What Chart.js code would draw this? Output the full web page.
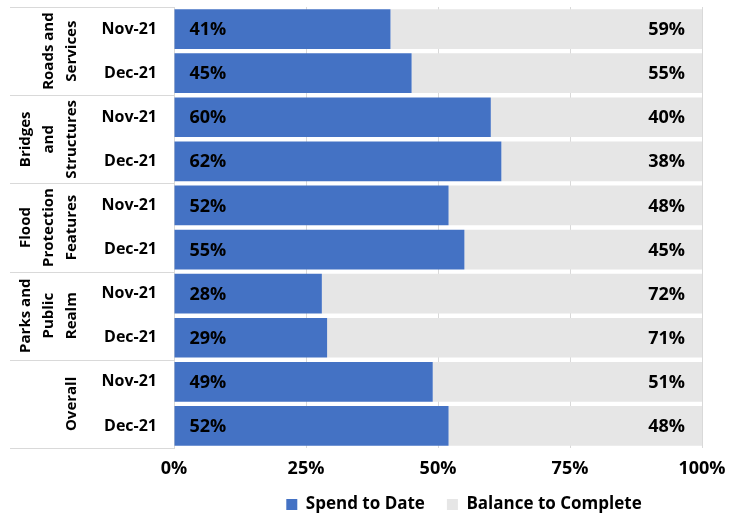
<!DOCTYPE html>
<html>
<head>
<meta charset="utf-8">
<script src="https://cdn.jsdelivr.net/npm/chart.js@4.4.1/dist/chart.umd.min.js"></script>
<style>
html,body{margin:0;padding:0;background:#fff;}
#wrap{width:745px;height:516px;position:relative;}
</style>
</head>
<body>
<div id="wrap"><canvas id="c" width="745" height="516"></canvas></div>
<script>
const groups = [["Roads and","Services"],["Bridges","and","Structures"],["Flood","Protection","Features"],["Parks and","Public","Realm"],["Overall"]];
const periods = ["Nov-21","Dec-21"];
const categories = ["Nov-21","Dec-21","Nov-21","Dec-21","Nov-21","Dec-21","Nov-21","Dec-21","Nov-21","Dec-21"];
const spendToDate = [41,45,60,62,52,55,28,29,49,52];
const balanceToComplete = [59,55,40,38,48,45,72,71,51,48];
const xTicks = [0,25,50,75,100];

const FONT = "'Open Sans', sans-serif";

const groupPlugin = {
  id: 'groupLabels',
  afterLayout(chart) {
    // Excel centres the legend slightly right of the plot centre
    const lg = chart.legend;
    if (lg) { lg.left += 26; lg.right += 26; }
  },
  afterDraw(chart) {
    const ctx = chart.ctx;
    const y = chart.scales.y;
    const n = categories.length;
    const p = i => y.getPixelForValue(i);
    const step = p(1) - p(0);
    const bound = i => (i <= 0 ? p(0) - step/2 : (i >= n ? p(n-1) + step/2 : (p(i-1)+p(i))/2));
    const left = chart.chartArea.left;
    ctx.save();
    ctx.strokeStyle = '#d9d9d9';
    ctx.lineWidth = 1;
    let idx = 0;
    groups.forEach((g, gi) => {
      const top = bound(idx), bot = bound(idx + periods.length);
      ctx.beginPath();
      ctx.moveTo(10, Math.round(top)+0.5); ctx.lineTo(left, Math.round(top)+0.5);
      ctx.stroke();
      if (gi === groups.length - 1) {
        ctx.beginPath();
        ctx.moveTo(10, Math.round(bot)+0.5); ctx.lineTo(left, Math.round(bot)+0.5);
        ctx.stroke();
      }
      const cy = (top + bot) / 2;
      ctx.fillStyle = '#000';
      ctx.font = "bold 15px " + FONT;
      ctx.textAlign = 'center';
      ctx.textBaseline = 'middle';
      const lastX = 72, lh = 23.3;
      g.forEach((line, li) => {
        const lx = lastX - (g.length - 1 - li) * lh;
        ctx.save();
        ctx.translate(lx, cy);
        ctx.rotate(-Math.PI/2);
        ctx.fillText(line, 0, 0);
        ctx.restore();
      });
      idx += periods.length;
    });
    ctx.restore();
  }
};

const valueLabels = {
  id: 'valueLabels',
  afterDatasetsDraw(chart) {
    const ctx = chart.ctx;
    ctx.save();
    ctx.fillStyle = '#000';
    ctx.font = "bold 18px " + FONT;
    ctx.textBaseline = 'middle';
    chart.data.datasets.forEach((ds, di) => {
      const meta = chart.getDatasetMeta(di);
      meta.data.forEach((el, i) => {
        const v = ds.data[i];
        const txt = v + '%';
        if (di === 0) {
          ctx.textAlign = 'left';
          ctx.fillText(txt, Math.min(el.base, el.x) + 15, el.y + 1);
        } else {
          ctx.textAlign = 'right';
          ctx.fillText(txt, Math.max(el.base, el.x) - 17, el.y + 1);
        }
      });
    });
    ctx.restore();
  }
};

new Chart(document.getElementById('c'), {
  type: 'bar',
  data: {
    labels: categories,
    datasets: [
      { label: 'Spend to Date', data: spendToDate, backgroundColor: '#4472C4', categoryPercentage: 1, barPercentage: 0.9 },
      { label: 'Balance to Complete', data: balanceToComplete, backgroundColor: '#E6E6E6', categoryPercentage: 1, barPercentage: 0.9 }
    ]
  },
  options: {
    indexAxis: 'y',
    responsive: false,
    animation: false,
    layout: { autoPadding: false, padding: { top: 7, right: 43, bottom: -7, left: 0 } },
    scales: {
      x: {
        stacked: true,
        min: 0, max: 100,
        afterBuildTicks(scale) { scale.ticks = xTicks.map(v => ({ value: v })); },
        afterFit(scale) { scale.height = 26; },
        grid: { color: '#d9d9d9', drawTicks: false },
        border: { display: false },
        ticks: { padding: 10, color: '#000', font: { family: FONT, size: 18, weight: 'bold' }, callback: v => v + '%' }
      },
      y: {
        stacked: true,
        afterFit(scale) { scale.width = 174; scale.paddingTop = 0; scale.paddingBottom = 0; },
        grid: { display: false, drawTicks: false },
        border: { display: true, color: '#d9d9d9', width: 1 },
        ticks: { padding: 17, color: '#000', font: { family: FONT, size: 16, weight: 'bold' } }
      }
    },
    plugins: {
      legend: {
        position: 'bottom',
        fullSize: false,
        labels: { boxWidth: 11, boxHeight: 11, padding: 22, color: '#000', font: { family: FONT, size: 17, weight: 'bold' } }
      },
      tooltip: { enabled: false }
    }
  },
  plugins: [groupPlugin, valueLabels]
});
</script>
</body>
</html>
